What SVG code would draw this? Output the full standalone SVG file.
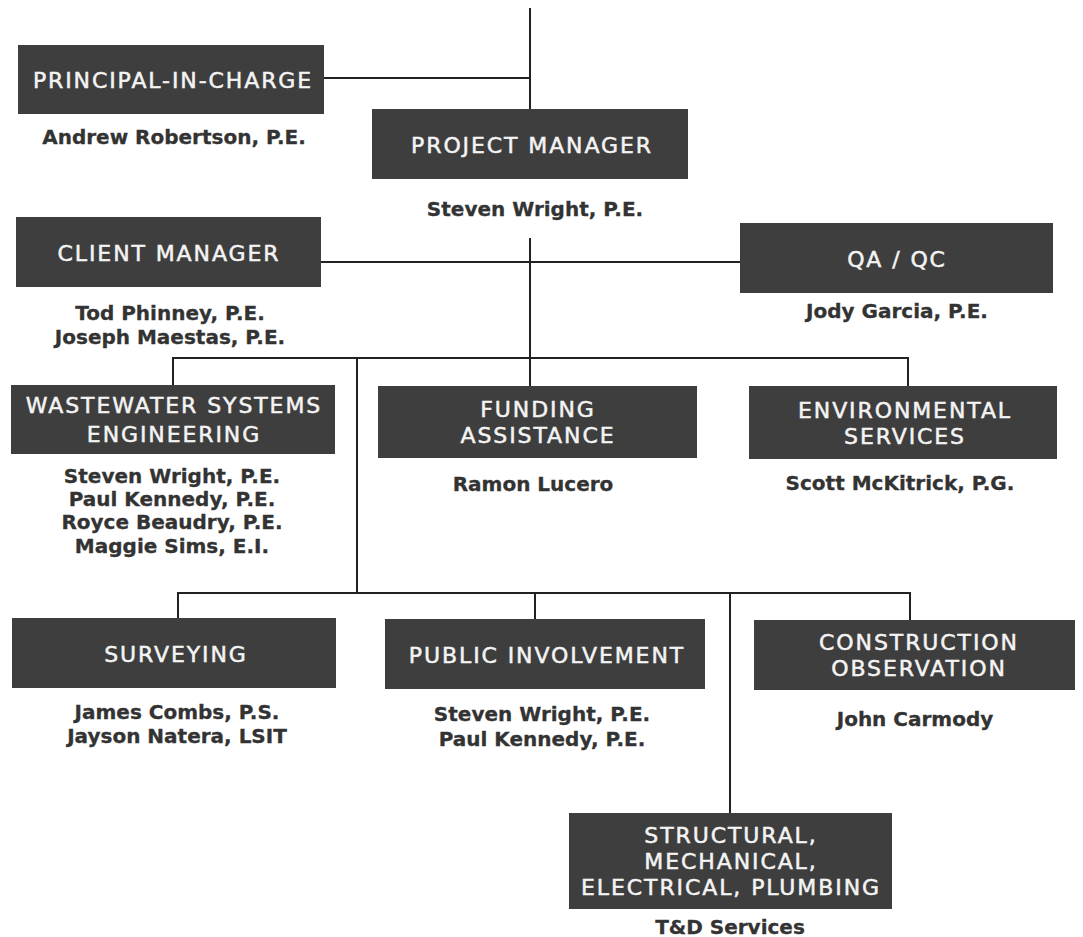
<svg xmlns="http://www.w3.org/2000/svg" width="1083" height="937" viewBox="0 0 1083 937">
<style>
.box{fill:#3e3e3e}
.lbl{font-family:"DejaVu Sans",Verdana,sans-serif;font-size:22px;letter-spacing:1.9px;fill:#f4f4f4;stroke:#f4f4f4;stroke-width:0.5px;text-anchor:middle}
.nm{font-family:"DejaVu Sans",Verdana,sans-serif;font-size:20px;font-weight:bold;fill:#333;stroke:#333;stroke-width:0.3px;text-anchor:middle}
.ln{stroke:#222;stroke-width:2;fill:none}
</style>
<rect width="1083" height="937" fill="#fff"/>
<g id="connectors" class="ln">
<line x1="530" y1="8" x2="530" y2="109"/>
<line x1="324" y1="78" x2="530" y2="78"/>
<line x1="530" y1="238" x2="530" y2="386"/>
<line x1="321" y1="262" x2="740" y2="262"/>
<line x1="173" y1="358" x2="908" y2="358"/>
<line x1="173" y1="357" x2="173" y2="385"/>
<line x1="908" y1="357" x2="908" y2="386"/>
<line x1="357" y1="358" x2="357" y2="593"/>
<line x1="178" y1="593" x2="910" y2="593"/>
<line x1="178" y1="592" x2="178" y2="618"/>
<line x1="535" y1="593" x2="535" y2="619"/>
<line x1="910" y1="592" x2="910" y2="620"/>
<line x1="730" y1="593" x2="730" y2="813"/>
</g>
<g id="principal">
<rect class="box" x="18" y="45" width="306" height="69"/>
<text class="lbl" x="173" y="88">PRINCIPAL-IN-CHARGE</text>
<text class="nm" x="174" y="144">Andrew Robertson, P.E.</text>
</g>
<g id="project-manager">
<rect class="box" x="372" y="109" width="316" height="70"/>
<text class="lbl" x="532" y="153">PROJECT MANAGER</text>
<text class="nm" x="535" y="216">Steven Wright, P.E.</text>
</g>
<g id="client-manager">
<rect class="box" x="16" y="217" width="305" height="70"/>
<text class="lbl" x="169" y="261">CLIENT MANAGER</text>
<text class="nm" x="170" y="320">Tod Phinney, P.E.</text>
<text class="nm" x="170" y="344">Joseph Maestas, P.E.</text>
</g>
<g id="qaqc">
<rect class="box" x="740" y="223" width="313" height="70"/>
<text class="lbl" x="897" y="267">QA / QC</text>
<text class="nm" x="897" y="318">Jody Garcia, P.E.</text>
</g>
<g id="wastewater">
<rect class="box" x="11" y="385" width="324" height="69"/>
<text class="lbl" x="174" y="413">WASTEWATER SYSTEMS</text>
<text class="lbl" x="174" y="442">ENGINEERING</text>
<text class="nm" x="172" y="483">Steven Wright, P.E.</text>
<text class="nm" x="172" y="506">Paul Kennedy, P.E.</text>
<text class="nm" x="172" y="529">Royce Beaudry, P.E.</text>
<text class="nm" x="172" y="553">Maggie Sims, E.I.</text>
</g>
<g id="funding">
<rect class="box" x="378" y="386" width="319" height="72"/>
<text class="lbl" x="538" y="417">FUNDING</text>
<text class="lbl" x="538" y="443">ASSISTANCE</text>
<text class="nm" x="533" y="491">Ramon Lucero</text>
</g>
<g id="environmental">
<rect class="box" x="749" y="386" width="308" height="73"/>
<text class="lbl" x="905" y="418">ENVIRONMENTAL</text>
<text class="lbl" x="905" y="444">SERVICES</text>
<text class="nm" x="900" y="490">Scott McKitrick, P.G.</text>
</g>
<g id="surveying">
<rect class="box" x="12" y="618" width="324" height="70"/>
<text class="lbl" x="176" y="662">SURVEYING</text>
<text class="nm" x="177" y="719">James Combs, P.S.</text>
<text class="nm" x="177" y="743">Jayson Natera, LSIT</text>
</g>
<g id="public-involvement">
<rect class="box" x="385" y="619" width="320" height="70"/>
<text class="lbl" x="547" y="663">PUBLIC INVOLVEMENT</text>
<text class="nm" x="542" y="721">Steven Wright, P.E.</text>
<text class="nm" x="542" y="746">Paul Kennedy, P.E.</text>
</g>
<g id="construction">
<rect class="box" x="754" y="620" width="321" height="70"/>
<text class="lbl" x="919" y="650">CONSTRUCTION</text>
<text class="lbl" x="919" y="676">OBSERVATION</text>
<text class="nm" x="915" y="726">John Carmody</text>
</g>
<g id="structural">
<rect class="box" x="569" y="813" width="323" height="96"/>
<text class="lbl" x="731" y="843">STRUCTURAL,</text>
<text class="lbl" x="731" y="869">MECHANICAL,</text>
<text class="lbl" x="731" y="895">ELECTRICAL, PLUMBING</text>
<text class="nm" x="730" y="934">T&amp;D Services</text>
</g>
</svg>
